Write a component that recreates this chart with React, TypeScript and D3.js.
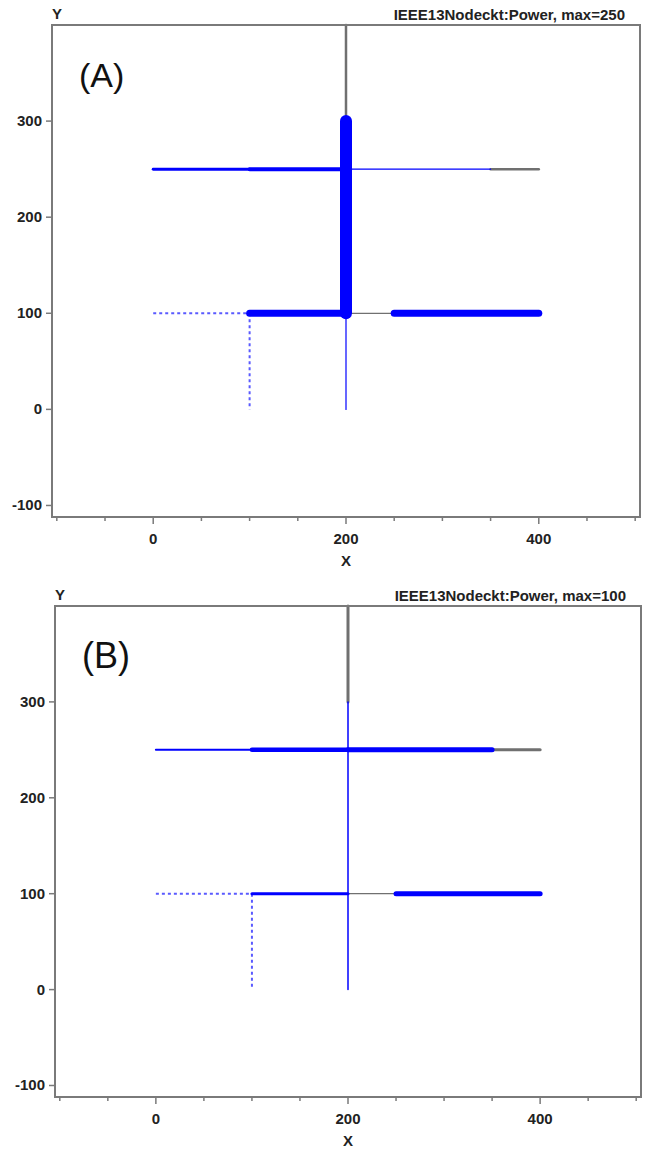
import React from "react";
import * as d3 from "d3";

// circuit segments (feet), from node -> to node
const segX1 = [200, 200, 200, 0, 100, 200, 350, 100, 200, 250, 0, 100, 200];
const segY1 = [400, 300, 250, 250, 250, 250, 250, 100, 100, 100, 100, 100, 100];
const segX2 = [200, 200, 200, 100, 200, 350, 400, 200, 250, 400, 100, 100, 200];
const segY2 = [300, 250, 100, 250, 250, 250, 250, 100, 100, 100, 100, 0, 0];
const segKind = ["switch", "line", "line", "line", "line", "line", "switch", "line", "switch", "line", "dotted", "dotted", "line"];

// power per segment for each case
const powerA = [52, 250, 250, 62, 83, 25, 52, 146, 25, 146, 25, 25, 25];
const powerB = [60, 30, 30, 40, 90, 100, 60, 60, 25, 100, 25, 25, 30];

const xMajorTicks = [0, 200, 400];
const xMinorTicks = [-100, -50, 0, 50, 100, 150, 200, 250, 300, 350, 400, 450, 500];
const yTicks = [-100, 0, 100, 200, 300];

const FONT = "'Liberation Sans', Arial, sans-serif";
const FRAME = "#7a7a7a";

type PanelProps = {
  left: number;
  right: number;
  top: number;
  bottom: number;
  title: string;
  tag: string;
  tagSize: number;
  power: number[];
  maxPower: number;
  maxWidth: number;
};

const Panel = ({ left, right, top, bottom, title, tag, tagSize, power, maxPower, maxWidth }: PanelProps) => {
  const x = d3.scaleLinear().domain([-105, 505]).range([left, right]);
  const y = d3.scaleLinear().domain([-112, 400]).range([bottom, top]);
  const w = d3.scaleLinear().domain([0, maxPower]).range([0, maxWidth]);

  // gray switches first, then thinner to thicker lines
  const order = segKind
    .map((k, i) => i)
    .sort((a, b) => {
      const ga = segKind[a] === "switch" ? 0 : 1;
      const gb = segKind[b] === "switch" ? 0 : 1;
      if (ga !== gb) return ga - gb;
      return power[a] - power[b];
    });

  return (
    <g>
      <text x={left + 5} y={top - 6} fontFamily={FONT} fontSize={15} fontWeight="bold" textAnchor="middle" fill="#222">
        Y
      </text>
      <text x={right - 15} y={top - 5} fontFamily={FONT} fontSize={15} fontWeight="bold" textAnchor="end" fill="#222">
        {title}
      </text>
      <text x={left + 27} y={top + 62} fontFamily={FONT} fontSize={tagSize} fill="#111">
        {tag}
      </text>

      {order.map((i) => {
        const kind = segKind[i];
        return (
          <line
            key={i}
            x1={x(segX1[i])}
            y1={y(segY1[i])}
            x2={x(segX2[i])}
            y2={y(segY2[i])}
            stroke={kind === "switch" ? "#707070" : kind === "dotted" ? "#5a5aff" : "#0000ff"}
            strokeWidth={kind === "dotted" ? 2 : Math.max(1.2, w(power[i]))}
            strokeDasharray={kind === "dotted" ? "3,3" : undefined}
            strokeLinecap={kind === "dotted" ? "butt" : "round"}
          />
        );
      })}

      <rect x={left} y={top} width={right - left} height={bottom - top} fill="none" stroke={FRAME} strokeWidth={2} />

      {yTicks.map((t) => (
        <g key={t}>
          <line x1={left - 6} x2={left} y1={y(t)} y2={y(t)} stroke={FRAME} strokeWidth={1.5} />
          <text x={left - 10} y={y(t) + 5} fontFamily={FONT} fontSize={15} fontWeight="bold" textAnchor="end" fill="#222">
            {t}
          </text>
        </g>
      ))}

      {xMinorTicks.map((t) => (
        <line
          key={t}
          x1={x(t)}
          x2={x(t)}
          y1={bottom + 1}
          y2={bottom + (xMajorTicks.includes(t) ? 7 : 4)}
          stroke={FRAME}
          strokeWidth={1.5}
        />
      ))}
      {xMajorTicks.map((t) => (
        <text key={t} x={x(t)} y={bottom + 27} fontFamily={FONT} fontSize={15} fontWeight="bold" textAnchor="middle" fill="#222">
          {t}
        </text>
      ))}
      <text x={x(200)} y={bottom + 49} fontFamily={FONT} fontSize={15} fontWeight="bold" textAnchor="middle" fill="#222">
        X
      </text>
    </g>
  );
};

export default function App() {
  return (
    <svg width={651} height={1151} style={{ position: "absolute", left: 0, top: 0, background: "#fff" }}>
      <Panel
        left={52}
        right={640}
        top={25}
        bottom={517}
        title="IEEE13Nodeckt:Power, max=250"
        tag="(A)"
        tagSize={34}
        power={powerA}
        maxPower={250}
        maxWidth={12}
      />
      <Panel
        left={55}
        right={641}
        top={606}
        bottom={1097}
        title="IEEE13Nodeckt:Power, max=100"
        tag="(B)"
        tagSize={36}
        power={powerB}
        maxPower={100}
        maxWidth={5}
      />
    </svg>
  );
}
